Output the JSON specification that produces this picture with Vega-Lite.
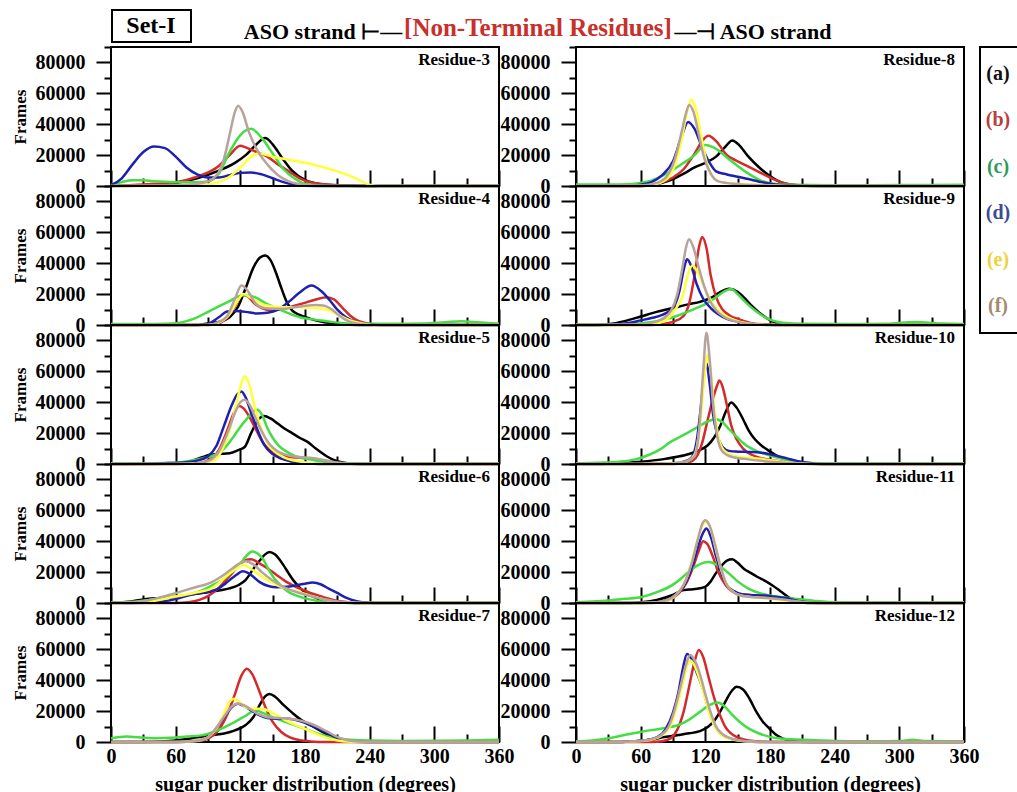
{
"$schema":"https://vega.github.io/schema/vega-lite/v6.json",
"padding":{"left":10,"top":5,"right":-23,"bottom":0},
"background":"white",
"config":{
 "font":"Liberation Serif",
 "view":{"stroke":"black","strokeWidth":2},
 "axis":{"labelFont":"Liberation Serif","labelFontWeight":"bold","labelFontSize":20,"labelColor":"black","titleFont":"Liberation Serif","titleFontWeight":"bold","titleColor":"black","grid":false,"domain":false,"tickColor":"black","tickWidth":2,"labelOverlap":false,"labelFlush":false,"labelBound":false,"tickCount":30},
 "text":{"font":"Liberation Serif","fontWeight":"bold"}
},
"datasets":{"pts":[
{"r":3,"s":"a","x":0,"y":0},{"r":3,"s":"a","x":40,"y":500},{"r":3,"s":"a","x":60,"y":2000},{"r":3,"s":"a","x":80,"y":5000},{"r":3,"s":"a","x":100,"y":10000},{"r":3,"s":"a","x":115,"y":15000},{"r":3,"s":"a","x":125,"y":20000},{"r":3,"s":"a","x":135,"y":27000},{"r":3,"s":"a","x":143,"y":31000},{"r":3,"s":"a","x":150,"y":27000},{"r":3,"s":"a","x":158,"y":19000},{"r":3,"s":"a","x":168,"y":10000},{"r":3,"s":"a","x":180,"y":4000},{"r":3,"s":"a","x":195,"y":1200},{"r":3,"s":"a","x":220,"y":200},{"r":3,"s":"a","x":240,"y":0},{"r":3,"s":"a","x":360,"y":0},
{"r":3,"s":"b","x":0,"y":0},{"r":3,"s":"b","x":30,"y":1000},{"r":3,"s":"b","x":60,"y":2500},{"r":3,"s":"b","x":80,"y":6000},{"r":3,"s":"b","x":100,"y":13000},{"r":3,"s":"b","x":110,"y":20000},{"r":3,"s":"b","x":120,"y":26000},{"r":3,"s":"b","x":125,"y":25000},{"r":3,"s":"b","x":135,"y":22000},{"r":3,"s":"b","x":145,"y":19000},{"r":3,"s":"b","x":155,"y":14000},{"r":3,"s":"b","x":165,"y":9500},{"r":3,"s":"b","x":175,"y":5000},{"r":3,"s":"b","x":185,"y":2500},{"r":3,"s":"b","x":200,"y":1000},{"r":3,"s":"b","x":230,"y":200},{"r":3,"s":"b","x":250,"y":0},{"r":3,"s":"b","x":360,"y":0},
{"r":3,"s":"c","x":0,"y":500},{"r":3,"s":"c","x":10,"y":2500},{"r":3,"s":"c","x":20,"y":3800},{"r":3,"s":"c","x":30,"y":3800},{"r":3,"s":"c","x":40,"y":3000},{"r":3,"s":"c","x":60,"y":2500},{"r":3,"s":"c","x":80,"y":2500},{"r":3,"s":"c","x":90,"y":3000},{"r":3,"s":"c","x":100,"y":8000},{"r":3,"s":"c","x":110,"y":22000},{"r":3,"s":"c","x":120,"y":33000},{"r":3,"s":"c","x":130,"y":37000},{"r":3,"s":"c","x":140,"y":31000},{"r":3,"s":"c","x":150,"y":21000},{"r":3,"s":"c","x":160,"y":11000},{"r":3,"s":"c","x":170,"y":5000},{"r":3,"s":"c","x":180,"y":1500},{"r":3,"s":"c","x":200,"y":200},{"r":3,"s":"c","x":220,"y":0},{"r":3,"s":"c","x":360,"y":0},
{"r":3,"s":"d","x":0,"y":500},{"r":3,"s":"d","x":10,"y":5000},{"r":3,"s":"d","x":20,"y":14000},{"r":3,"s":"d","x":30,"y":22000},{"r":3,"s":"d","x":40,"y":25500},{"r":3,"s":"d","x":50,"y":24500},{"r":3,"s":"d","x":60,"y":19000},{"r":3,"s":"d","x":70,"y":12000},{"r":3,"s":"d","x":80,"y":7500},{"r":3,"s":"d","x":90,"y":5500},{"r":3,"s":"d","x":100,"y":5500},{"r":3,"s":"d","x":110,"y":7000},{"r":3,"s":"d","x":120,"y":8500},{"r":3,"s":"d","x":130,"y":8800},{"r":3,"s":"d","x":140,"y":7500},{"r":3,"s":"d","x":150,"y":5000},{"r":3,"s":"d","x":160,"y":2500},{"r":3,"s":"d","x":170,"y":900},{"r":3,"s":"d","x":180,"y":200},{"r":3,"s":"d","x":200,"y":0},{"r":3,"s":"d","x":360,"y":0},
{"r":3,"s":"e","x":0,"y":0},{"r":3,"s":"e","x":60,"y":0},{"r":3,"s":"e","x":90,"y":1000},{"r":3,"s":"e","x":100,"y":2500},{"r":3,"s":"e","x":110,"y":6000},{"r":3,"s":"e","x":120,"y":12000},{"r":3,"s":"e","x":130,"y":19000},{"r":3,"s":"e","x":137,"y":21000},{"r":3,"s":"e","x":150,"y":19000},{"r":3,"s":"e","x":165,"y":17000},{"r":3,"s":"e","x":180,"y":15000},{"r":3,"s":"e","x":195,"y":12500},{"r":3,"s":"e","x":210,"y":9500},{"r":3,"s":"e","x":220,"y":7000},{"r":3,"s":"e","x":230,"y":4000},{"r":3,"s":"e","x":240,"y":800},{"r":3,"s":"e","x":250,"y":0},{"r":3,"s":"e","x":360,"y":0},
{"r":3,"s":"f","x":0,"y":0},{"r":3,"s":"f","x":60,"y":500},{"r":3,"s":"f","x":80,"y":1500},{"r":3,"s":"f","x":90,"y":3000},{"r":3,"s":"f","x":100,"y":9000},{"r":3,"s":"f","x":105,"y":18000},{"r":3,"s":"f","x":110,"y":33000},{"r":3,"s":"f","x":115,"y":48000},{"r":3,"s":"f","x":118,"y":52000},{"r":3,"s":"f","x":122,"y":48000},{"r":3,"s":"f","x":128,"y":35000},{"r":3,"s":"f","x":135,"y":24000},{"r":3,"s":"f","x":145,"y":14000},{"r":3,"s":"f","x":155,"y":7000},{"r":3,"s":"f","x":165,"y":3000},{"r":3,"s":"f","x":180,"y":800},{"r":3,"s":"f","x":200,"y":0},{"r":3,"s":"f","x":360,"y":0},

{"r":4,"s":"a","x":0,"y":0},{"r":4,"s":"a","x":80,"y":0},{"r":4,"s":"a","x":90,"y":1000},{"r":4,"s":"a","x":100,"y":2000},{"r":4,"s":"a","x":110,"y":5000},{"r":4,"s":"a","x":118,"y":12000},{"r":4,"s":"a","x":125,"y":24000},{"r":4,"s":"a","x":132,"y":37000},{"r":4,"s":"a","x":138,"y":43500},{"r":4,"s":"a","x":143,"y":45000},{"r":4,"s":"a","x":148,"y":42000},{"r":4,"s":"a","x":153,"y":34000},{"r":4,"s":"a","x":158,"y":24000},{"r":4,"s":"a","x":163,"y":15000},{"r":4,"s":"a","x":168,"y":9500},{"r":4,"s":"a","x":175,"y":6500},{"r":4,"s":"a","x":185,"y":4000},{"r":4,"s":"a","x":195,"y":2200},{"r":4,"s":"a","x":210,"y":700},{"r":4,"s":"a","x":230,"y":0},{"r":4,"s":"a","x":360,"y":0},
{"r":4,"s":"b","x":0,"y":0},{"r":4,"s":"b","x":90,"y":0},{"r":4,"s":"b","x":100,"y":1000},{"r":4,"s":"b","x":108,"y":5000},{"r":4,"s":"b","x":115,"y":12000},{"r":4,"s":"b","x":122,"y":19500},{"r":4,"s":"b","x":127,"y":18500},{"r":4,"s":"b","x":133,"y":14000},{"r":4,"s":"b","x":140,"y":11000},{"r":4,"s":"b","x":148,"y":9500},{"r":4,"s":"b","x":158,"y":10000},{"r":4,"s":"b","x":168,"y":12000},{"r":4,"s":"b","x":178,"y":14000},{"r":4,"s":"b","x":190,"y":16500},{"r":4,"s":"b","x":200,"y":18000},{"r":4,"s":"b","x":207,"y":16500},{"r":4,"s":"b","x":215,"y":11000},{"r":4,"s":"b","x":222,"y":6000},{"r":4,"s":"b","x":230,"y":2500},{"r":4,"s":"b","x":240,"y":800},{"r":4,"s":"b","x":255,"y":0},{"r":4,"s":"b","x":360,"y":0},
{"r":4,"s":"c","x":0,"y":600},{"r":4,"s":"c","x":30,"y":600},{"r":4,"s":"c","x":50,"y":800},{"r":4,"s":"c","x":60,"y":1200},{"r":4,"s":"c","x":70,"y":2500},{"r":4,"s":"c","x":80,"y":5000},{"r":4,"s":"c","x":90,"y":8500},{"r":4,"s":"c","x":100,"y":12000},{"r":4,"s":"c","x":110,"y":15500},{"r":4,"s":"c","x":120,"y":19000},{"r":4,"s":"c","x":126,"y":19500},{"r":4,"s":"c","x":135,"y":17500},{"r":4,"s":"c","x":145,"y":13500},{"r":4,"s":"c","x":155,"y":10500},{"r":4,"s":"c","x":165,"y":7500},{"r":4,"s":"c","x":175,"y":5000},{"r":4,"s":"c","x":185,"y":3800},{"r":4,"s":"c","x":200,"y":2500},{"r":4,"s":"c","x":215,"y":1200},{"r":4,"s":"c","x":230,"y":800},{"r":4,"s":"c","x":260,"y":800},{"r":4,"s":"c","x":290,"y":1000},{"r":4,"s":"c","x":310,"y":1800},{"r":4,"s":"c","x":325,"y":2400},{"r":4,"s":"c","x":340,"y":1800},{"r":4,"s":"c","x":360,"y":800},
{"r":4,"s":"d","x":0,"y":0},{"r":4,"s":"d","x":80,"y":0},{"r":4,"s":"d","x":90,"y":800},{"r":4,"s":"d","x":100,"y":5000},{"r":4,"s":"d","x":108,"y":8800},{"r":4,"s":"d","x":115,"y":9000},{"r":4,"s":"d","x":125,"y":8500},{"r":4,"s":"d","x":135,"y":7500},{"r":4,"s":"d","x":145,"y":8000},{"r":4,"s":"d","x":155,"y":10000},{"r":4,"s":"d","x":165,"y":15000},{"r":4,"s":"d","x":175,"y":21000},{"r":4,"s":"d","x":186,"y":25500},{"r":4,"s":"d","x":195,"y":22000},{"r":4,"s":"d","x":203,"y":16000},{"r":4,"s":"d","x":210,"y":10000},{"r":4,"s":"d","x":218,"y":5000},{"r":4,"s":"d","x":228,"y":1800},{"r":4,"s":"d","x":240,"y":300},{"r":4,"s":"d","x":250,"y":0},{"r":4,"s":"d","x":360,"y":0},
{"r":4,"s":"e","x":0,"y":0},{"r":4,"s":"e","x":90,"y":0},{"r":4,"s":"e","x":100,"y":1500},{"r":4,"s":"e","x":110,"y":7000},{"r":4,"s":"e","x":117,"y":15000},{"r":4,"s":"e","x":123,"y":20000},{"r":4,"s":"e","x":130,"y":17500},{"r":4,"s":"e","x":140,"y":13500},{"r":4,"s":"e","x":150,"y":12000},{"r":4,"s":"e","x":160,"y":11500},{"r":4,"s":"e","x":175,"y":11500},{"r":4,"s":"e","x":190,"y":11000},{"r":4,"s":"e","x":200,"y":10000},{"r":4,"s":"e","x":210,"y":7000},{"r":4,"s":"e","x":220,"y":3500},{"r":4,"s":"e","x":230,"y":1500},{"r":4,"s":"e","x":245,"y":0},{"r":4,"s":"e","x":360,"y":0},
{"r":4,"s":"f","x":0,"y":0},{"r":4,"s":"f","x":90,"y":0},{"r":4,"s":"f","x":100,"y":2000},{"r":4,"s":"f","x":108,"y":6000},{"r":4,"s":"f","x":115,"y":17000},{"r":4,"s":"f","x":121,"y":25500},{"r":4,"s":"f","x":127,"y":22000},{"r":4,"s":"f","x":134,"y":14000},{"r":4,"s":"f","x":142,"y":11000},{"r":4,"s":"f","x":150,"y":10500},{"r":4,"s":"f","x":160,"y":10500},{"r":4,"s":"f","x":170,"y":11500},{"r":4,"s":"f","x":180,"y":12500},{"r":4,"s":"f","x":190,"y":13000},{"r":4,"s":"f","x":198,"y":12500},{"r":4,"s":"f","x":205,"y":10000},{"r":4,"s":"f","x":212,"y":6000},{"r":4,"s":"f","x":220,"y":2500},{"r":4,"s":"f","x":230,"y":800},{"r":4,"s":"f","x":240,"y":0},{"r":4,"s":"f","x":360,"y":0},

{"r":5,"s":"a","x":0,"y":0},{"r":5,"s":"a","x":40,"y":0},{"r":5,"s":"a","x":60,"y":500},{"r":5,"s":"a","x":75,"y":2000},{"r":5,"s":"a","x":85,"y":4500},{"r":5,"s":"a","x":92,"y":6000},{"r":5,"s":"a","x":100,"y":6500},{"r":5,"s":"a","x":110,"y":7000},{"r":5,"s":"a","x":118,"y":9000},{"r":5,"s":"a","x":124,"y":11000},{"r":5,"s":"a","x":130,"y":20000},{"r":5,"s":"a","x":136,"y":28000},{"r":5,"s":"a","x":142,"y":31000},{"r":5,"s":"a","x":148,"y":29500},{"r":5,"s":"a","x":155,"y":26000},{"r":5,"s":"a","x":162,"y":22500},{"r":5,"s":"a","x":168,"y":20000},{"r":5,"s":"a","x":175,"y":17000},{"r":5,"s":"a","x":182,"y":14500},{"r":5,"s":"a","x":190,"y":10000},{"r":5,"s":"a","x":198,"y":6000},{"r":5,"s":"a","x":206,"y":2800},{"r":5,"s":"a","x":215,"y":1000},{"r":5,"s":"a","x":230,"y":0},{"r":5,"s":"a","x":360,"y":0},
{"r":5,"s":"b","x":0,"y":0},{"r":5,"s":"b","x":60,"y":0},{"r":5,"s":"b","x":80,"y":500},{"r":5,"s":"b","x":92,"y":3000},{"r":5,"s":"b","x":100,"y":9000},{"r":5,"s":"b","x":108,"y":22000},{"r":5,"s":"b","x":114,"y":33000},{"r":5,"s":"b","x":119,"y":37500},{"r":5,"s":"b","x":123,"y":36000},{"r":5,"s":"b","x":128,"y":31000},{"r":5,"s":"b","x":134,"y":23000},{"r":5,"s":"b","x":140,"y":15000},{"r":5,"s":"b","x":147,"y":9000},{"r":5,"s":"b","x":155,"y":6000},{"r":5,"s":"b","x":165,"y":4500},{"r":5,"s":"b","x":175,"y":4000},{"r":5,"s":"b","x":185,"y":3500},{"r":5,"s":"b","x":195,"y":2500},{"r":5,"s":"b","x":205,"y":1200},{"r":5,"s":"b","x":220,"y":300},{"r":5,"s":"b","x":235,"y":0},{"r":5,"s":"b","x":360,"y":0},
{"r":5,"s":"c","x":0,"y":300},{"r":5,"s":"c","x":30,"y":400},{"r":5,"s":"c","x":50,"y":700},{"r":5,"s":"c","x":62,"y":1000},{"r":5,"s":"c","x":79,"y":2800},{"r":5,"s":"c","x":90,"y":4500},{"r":5,"s":"c","x":97,"y":6000},{"r":5,"s":"c","x":105,"y":10000},{"r":5,"s":"c","x":114,"y":18000},{"r":5,"s":"c","x":121,"y":25000},{"r":5,"s":"c","x":127,"y":30000},{"r":5,"s":"c","x":132,"y":34000},{"r":5,"s":"c","x":136,"y":35200},{"r":5,"s":"c","x":140,"y":32000},{"r":5,"s":"c","x":145,"y":23500},{"r":5,"s":"c","x":150,"y":17000},{"r":5,"s":"c","x":156,"y":11500},{"r":5,"s":"c","x":163,"y":8000},{"r":5,"s":"c","x":171,"y":5000},{"r":5,"s":"c","x":180,"y":3500},{"r":5,"s":"c","x":190,"y":2300},{"r":5,"s":"c","x":205,"y":1000},{"r":5,"s":"c","x":225,"y":400},{"r":5,"s":"c","x":250,"y":200},{"r":5,"s":"c","x":360,"y":200},
{"r":5,"s":"d","x":0,"y":0},{"r":5,"s":"d","x":30,"y":200},{"r":5,"s":"d","x":50,"y":500},{"r":5,"s":"d","x":70,"y":1200},{"r":5,"s":"d","x":80,"y":2200},{"r":5,"s":"d","x":90,"y":5000},{"r":5,"s":"d","x":98,"y":12000},{"r":5,"s":"d","x":105,"y":25000},{"r":5,"s":"d","x":112,"y":38000},{"r":5,"s":"d","x":117,"y":45000},{"r":5,"s":"d","x":121,"y":47000},{"r":5,"s":"d","x":125,"y":43000},{"r":5,"s":"d","x":130,"y":33000},{"r":5,"s":"d","x":136,"y":22000},{"r":5,"s":"d","x":142,"y":12500},{"r":5,"s":"d","x":150,"y":6500},{"r":5,"s":"d","x":158,"y":3500},{"r":5,"s":"d","x":168,"y":1500},{"r":5,"s":"d","x":180,"y":500},{"r":5,"s":"d","x":195,"y":0},{"r":5,"s":"d","x":360,"y":0},
{"r":5,"s":"e","x":0,"y":0},{"r":5,"s":"e","x":60,"y":0},{"r":5,"s":"e","x":80,"y":500},{"r":5,"s":"e","x":95,"y":2000},{"r":5,"s":"e","x":103,"y":9000},{"r":5,"s":"e","x":110,"y":22000},{"r":5,"s":"e","x":116,"y":38000},{"r":5,"s":"e","x":120,"y":50000},{"r":5,"s":"e","x":124,"y":56800},{"r":5,"s":"e","x":128,"y":52000},{"r":5,"s":"e","x":133,"y":38000},{"r":5,"s":"e","x":138,"y":26000},{"r":5,"s":"e","x":144,"y":15000},{"r":5,"s":"e","x":152,"y":8000},{"r":5,"s":"e","x":160,"y":4500},{"r":5,"s":"e","x":170,"y":2200},{"r":5,"s":"e","x":185,"y":700},{"r":5,"s":"e","x":200,"y":0},{"r":5,"s":"e","x":360,"y":0},
{"r":5,"s":"f","x":0,"y":0},{"r":5,"s":"f","x":60,"y":0},{"r":5,"s":"f","x":80,"y":500},{"r":5,"s":"f","x":92,"y":2500},{"r":5,"s":"f","x":100,"y":8000},{"r":5,"s":"f","x":108,"y":20000},{"r":5,"s":"f","x":115,"y":33000},{"r":5,"s":"f","x":120,"y":40000},{"r":5,"s":"f","x":124,"y":41600},{"r":5,"s":"f","x":128,"y":39000},{"r":5,"s":"f","x":134,"y":30000},{"r":5,"s":"f","x":140,"y":21000},{"r":5,"s":"f","x":147,"y":13000},{"r":5,"s":"f","x":155,"y":8000},{"r":5,"s":"f","x":165,"y":5500},{"r":5,"s":"f","x":175,"y":4500},{"r":5,"s":"f","x":185,"y":4000},{"r":5,"s":"f","x":195,"y":3000},{"r":5,"s":"f","x":205,"y":1500},{"r":5,"s":"f","x":215,"y":500},{"r":5,"s":"f","x":230,"y":0},{"r":5,"s":"f","x":360,"y":0},

{"r":6,"s":"a","x":0,"y":0},{"r":6,"s":"a","x":10,"y":500},{"r":6,"s":"a","x":20,"y":1200},{"r":6,"s":"a","x":31,"y":2500},{"r":6,"s":"a","x":45,"y":3200},{"r":6,"s":"a","x":62,"y":4000},{"r":6,"s":"a","x":79,"y":6000},{"r":6,"s":"a","x":90,"y":7000},{"r":6,"s":"a","x":101,"y":8200},{"r":6,"s":"a","x":110,"y":9500},{"r":6,"s":"a","x":118,"y":11500},{"r":6,"s":"a","x":125,"y":15000},{"r":6,"s":"a","x":132,"y":22000},{"r":6,"s":"a","x":138,"y":27500},{"r":6,"s":"a","x":143,"y":31500},{"r":6,"s":"a","x":147,"y":33000},{"r":6,"s":"a","x":152,"y":31500},{"r":6,"s":"a","x":160,"y":24500},{"r":6,"s":"a","x":165,"y":19000},{"r":6,"s":"a","x":170,"y":14000},{"r":6,"s":"a","x":175,"y":10000},{"r":6,"s":"a","x":180,"y":7000},{"r":6,"s":"a","x":188,"y":4000},{"r":6,"s":"a","x":197,"y":1800},{"r":6,"s":"a","x":210,"y":500},{"r":6,"s":"a","x":225,"y":0},{"r":6,"s":"a","x":360,"y":0},
{"r":6,"s":"b","x":0,"y":0},{"r":6,"s":"b","x":60,"y":0},{"r":6,"s":"b","x":72,"y":500},{"r":6,"s":"b","x":82,"y":2000},{"r":6,"s":"b","x":90,"y":4500},{"r":6,"s":"b","x":98,"y":8500},{"r":6,"s":"b","x":105,"y":13500},{"r":6,"s":"b","x":112,"y":19000},{"r":6,"s":"b","x":119,"y":24500},{"r":6,"s":"b","x":124,"y":27500},{"r":6,"s":"b","x":130,"y":28300},{"r":6,"s":"b","x":137,"y":26000},{"r":6,"s":"b","x":145,"y":22500},{"r":6,"s":"b","x":153,"y":18500},{"r":6,"s":"b","x":162,"y":14000},{"r":6,"s":"b","x":170,"y":11000},{"r":6,"s":"b","x":180,"y":8000},{"r":6,"s":"b","x":188,"y":5800},{"r":6,"s":"b","x":197,"y":3800},{"r":6,"s":"b","x":206,"y":2000},{"r":6,"s":"b","x":216,"y":800},{"r":6,"s":"b","x":230,"y":0},{"r":6,"s":"b","x":360,"y":0},
{"r":6,"s":"c","x":0,"y":300},{"r":6,"s":"c","x":20,"y":800},{"r":6,"s":"c","x":35,"y":2000},{"r":6,"s":"c","x":45,"y":3000},{"r":6,"s":"c","x":58,"y":4200},{"r":6,"s":"c","x":70,"y":5000},{"r":6,"s":"c","x":80,"y":7000},{"r":6,"s":"c","x":88,"y":9300},{"r":6,"s":"c","x":97,"y":12500},{"r":6,"s":"c","x":105,"y":15700},{"r":6,"s":"c","x":112,"y":20000},{"r":6,"s":"c","x":119,"y":24500},{"r":6,"s":"c","x":125,"y":30000},{"r":6,"s":"c","x":131,"y":33400},{"r":6,"s":"c","x":136,"y":32000},{"r":6,"s":"c","x":141,"y":28500},{"r":6,"s":"c","x":146,"y":22000},{"r":6,"s":"c","x":152,"y":15500},{"r":6,"s":"c","x":158,"y":11000},{"r":6,"s":"c","x":164,"y":7500},{"r":6,"s":"c","x":172,"y":4800},{"r":6,"s":"c","x":180,"y":3000},{"r":6,"s":"c","x":193,"y":1200},{"r":6,"s":"c","x":210,"y":400},{"r":6,"s":"c","x":240,"y":200},{"r":6,"s":"c","x":360,"y":200},
{"r":6,"s":"d","x":0,"y":0},{"r":6,"s":"d","x":30,"y":200},{"r":6,"s":"d","x":45,"y":800},{"r":6,"s":"d","x":60,"y":2500},{"r":6,"s":"d","x":72,"y":5000},{"r":6,"s":"d","x":82,"y":6500},{"r":6,"s":"d","x":92,"y":7500},{"r":6,"s":"d","x":100,"y":9500},{"r":6,"s":"d","x":106,"y":12500},{"r":6,"s":"d","x":113,"y":16500},{"r":6,"s":"d","x":118,"y":19000},{"r":6,"s":"d","x":122,"y":20500},{"r":6,"s":"d","x":127,"y":19500},{"r":6,"s":"d","x":132,"y":17000},{"r":6,"s":"d","x":138,"y":13500},{"r":6,"s":"d","x":146,"y":11000},{"r":6,"s":"d","x":154,"y":10200},{"r":6,"s":"d","x":163,"y":10500},{"r":6,"s":"d","x":172,"y":11500},{"r":6,"s":"d","x":180,"y":12500},{"r":6,"s":"d","x":187,"y":13200},{"r":6,"s":"d","x":195,"y":12000},{"r":6,"s":"d","x":202,"y":9300},{"r":6,"s":"d","x":210,"y":6500},{"r":6,"s":"d","x":218,"y":3500},{"r":6,"s":"d","x":228,"y":1200},{"r":6,"s":"d","x":240,"y":200},{"r":6,"s":"d","x":250,"y":0},{"r":6,"s":"d","x":360,"y":0},
{"r":6,"s":"e","x":0,"y":0},{"r":6,"s":"e","x":20,"y":300},{"r":6,"s":"e","x":40,"y":1500},{"r":6,"s":"e","x":55,"y":3500},{"r":6,"s":"e","x":70,"y":5500},{"r":6,"s":"e","x":80,"y":7000},{"r":6,"s":"e","x":92,"y":9000},{"r":6,"s":"e","x":100,"y":13000},{"r":6,"s":"e","x":108,"y":18000},{"r":6,"s":"e","x":115,"y":21500},{"r":6,"s":"e","x":123,"y":24800},{"r":6,"s":"e","x":128,"y":23000},{"r":6,"s":"e","x":136,"y":19000},{"r":6,"s":"e","x":145,"y":15000},{"r":6,"s":"e","x":154,"y":11500},{"r":6,"s":"e","x":165,"y":8800},{"r":6,"s":"e","x":175,"y":7000},{"r":6,"s":"e","x":185,"y":4800},{"r":6,"s":"e","x":195,"y":2800},{"r":6,"s":"e","x":205,"y":1200},{"r":6,"s":"e","x":220,"y":300},{"r":6,"s":"e","x":235,"y":0},{"r":6,"s":"e","x":360,"y":0},
{"r":6,"s":"f","x":0,"y":0},{"r":6,"s":"f","x":20,"y":500},{"r":6,"s":"f","x":35,"y":1800},{"r":6,"s":"f","x":45,"y":3500},{"r":6,"s":"f","x":58,"y":6000},{"r":6,"s":"f","x":70,"y":8500},{"r":6,"s":"f","x":80,"y":10500},{"r":6,"s":"f","x":92,"y":13000},{"r":6,"s":"f","x":102,"y":17000},{"r":6,"s":"f","x":112,"y":22000},{"r":6,"s":"f","x":120,"y":26000},{"r":6,"s":"f","x":125,"y":27000},{"r":6,"s":"f","x":132,"y":25000},{"r":6,"s":"f","x":140,"y":20000},{"r":6,"s":"f","x":148,"y":15500},{"r":6,"s":"f","x":157,"y":11500},{"r":6,"s":"f","x":166,"y":8500},{"r":6,"s":"f","x":175,"y":6500},{"r":6,"s":"f","x":185,"y":4500},{"r":6,"s":"f","x":195,"y":2800},{"r":6,"s":"f","x":205,"y":1500},{"r":6,"s":"f","x":220,"y":400},{"r":6,"s":"f","x":235,"y":0},{"r":6,"s":"f","x":360,"y":0},

{"r":7,"s":"a","x":0,"y":0},{"r":7,"s":"a","x":30,"y":0},{"r":7,"s":"a","x":50,"y":500},{"r":7,"s":"a","x":65,"y":1500},{"r":7,"s":"a","x":80,"y":3000},{"r":7,"s":"a","x":95,"y":4500},{"r":7,"s":"a","x":105,"y":5500},{"r":7,"s":"a","x":115,"y":7500},{"r":7,"s":"a","x":125,"y":11000},{"r":7,"s":"a","x":132,"y":16000},{"r":7,"s":"a","x":138,"y":24000},{"r":7,"s":"a","x":143,"y":29500},{"r":7,"s":"a","x":147,"y":31000},{"r":7,"s":"a","x":152,"y":29500},{"r":7,"s":"a","x":160,"y":24000},{"r":7,"s":"a","x":168,"y":19000},{"r":7,"s":"a","x":177,"y":14000},{"r":7,"s":"a","x":186,"y":10500},{"r":7,"s":"a","x":195,"y":7000},{"r":7,"s":"a","x":204,"y":3500},{"r":7,"s":"a","x":212,"y":1200},{"r":7,"s":"a","x":225,"y":200},{"r":7,"s":"a","x":240,"y":0},{"r":7,"s":"a","x":360,"y":0},
{"r":7,"s":"b","x":0,"y":0},{"r":7,"s":"b","x":60,"y":0},{"r":7,"s":"b","x":80,"y":500},{"r":7,"s":"b","x":92,"y":3000},{"r":7,"s":"b","x":100,"y":8000},{"r":7,"s":"b","x":108,"y":18000},{"r":7,"s":"b","x":115,"y":31000},{"r":7,"s":"b","x":121,"y":43000},{"r":7,"s":"b","x":126,"y":47500},{"r":7,"s":"b","x":131,"y":44000},{"r":7,"s":"b","x":137,"y":34000},{"r":7,"s":"b","x":143,"y":23000},{"r":7,"s":"b","x":150,"y":13000},{"r":7,"s":"b","x":158,"y":6500},{"r":7,"s":"b","x":166,"y":3000},{"r":7,"s":"b","x":175,"y":1200},{"r":7,"s":"b","x":185,"y":400},{"r":7,"s":"b","x":200,"y":0},{"r":7,"s":"b","x":360,"y":0},
{"r":7,"s":"c","x":0,"y":2500},{"r":7,"s":"c","x":8,"y":3200},{"r":7,"s":"c","x":15,"y":3500},{"r":7,"s":"c","x":25,"y":3000},{"r":7,"s":"c","x":40,"y":2500},{"r":7,"s":"c","x":55,"y":2700},{"r":7,"s":"c","x":70,"y":3500},{"r":7,"s":"c","x":84,"y":4300},{"r":7,"s":"c","x":95,"y":6500},{"r":7,"s":"c","x":105,"y":9500},{"r":7,"s":"c","x":115,"y":13000},{"r":7,"s":"c","x":125,"y":17000},{"r":7,"s":"c","x":134,"y":20500},{"r":7,"s":"c","x":142,"y":18500},{"r":7,"s":"c","x":152,"y":15500},{"r":7,"s":"c","x":162,"y":13000},{"r":7,"s":"c","x":171,"y":10800},{"r":7,"s":"c","x":182,"y":8000},{"r":7,"s":"c","x":192,"y":5400},{"r":7,"s":"c","x":205,"y":3000},{"r":7,"s":"c","x":222,"y":1500},{"r":7,"s":"c","x":240,"y":900},{"r":7,"s":"c","x":270,"y":700},{"r":7,"s":"c","x":300,"y":800},{"r":7,"s":"c","x":330,"y":1000},{"r":7,"s":"c","x":360,"y":1500},
{"r":7,"s":"d","x":0,"y":0},{"r":7,"s":"d","x":60,"y":0},{"r":7,"s":"d","x":80,"y":800},{"r":7,"s":"d","x":90,"y":3000},{"r":7,"s":"d","x":98,"y":9000},{"r":7,"s":"d","x":105,"y":16000},{"r":7,"s":"d","x":112,"y":22500},{"r":7,"s":"d","x":118,"y":24800},{"r":7,"s":"d","x":124,"y":23000},{"r":7,"s":"d","x":130,"y":20500},{"r":7,"s":"d","x":137,"y":17500},{"r":7,"s":"d","x":145,"y":15500},{"r":7,"s":"d","x":155,"y":15000},{"r":7,"s":"d","x":165,"y":15000},{"r":7,"s":"d","x":175,"y":13500},{"r":7,"s":"d","x":185,"y":11000},{"r":7,"s":"d","x":193,"y":8500},{"r":7,"s":"d","x":200,"y":6000},{"r":7,"s":"d","x":208,"y":3200},{"r":7,"s":"d","x":216,"y":1200},{"r":7,"s":"d","x":225,"y":300},{"r":7,"s":"d","x":240,"y":0},{"r":7,"s":"d","x":360,"y":0},
{"r":7,"s":"e","x":0,"y":0},{"r":7,"s":"e","x":60,"y":0},{"r":7,"s":"e","x":80,"y":800},{"r":7,"s":"e","x":90,"y":3000},{"r":7,"s":"e","x":97,"y":8000},{"r":7,"s":"e","x":104,"y":17000},{"r":7,"s":"e","x":110,"y":26000},{"r":7,"s":"e","x":114,"y":28000},{"r":7,"s":"e","x":119,"y":26000},{"r":7,"s":"e","x":125,"y":22500},{"r":7,"s":"e","x":132,"y":21500},{"r":7,"s":"e","x":140,"y":21500},{"r":7,"s":"e","x":148,"y":19500},{"r":7,"s":"e","x":156,"y":16500},{"r":7,"s":"e","x":165,"y":13000},{"r":7,"s":"e","x":175,"y":10000},{"r":7,"s":"e","x":185,"y":7000},{"r":7,"s":"e","x":195,"y":4000},{"r":7,"s":"e","x":205,"y":1800},{"r":7,"s":"e","x":215,"y":500},{"r":7,"s":"e","x":230,"y":0},{"r":7,"s":"e","x":360,"y":0},
{"r":7,"s":"f","x":0,"y":0},{"r":7,"s":"f","x":60,"y":0},{"r":7,"s":"f","x":80,"y":800},{"r":7,"s":"f","x":90,"y":3000},{"r":7,"s":"f","x":98,"y":9500},{"r":7,"s":"f","x":105,"y":16500},{"r":7,"s":"f","x":112,"y":23000},{"r":7,"s":"f","x":118,"y":25000},{"r":7,"s":"f","x":124,"y":23500},{"r":7,"s":"f","x":130,"y":21000},{"r":7,"s":"f","x":137,"y":18000},{"r":7,"s":"f","x":145,"y":16000},{"r":7,"s":"f","x":155,"y":15500},{"r":7,"s":"f","x":165,"y":15000},{"r":7,"s":"f","x":175,"y":14000},{"r":7,"s":"f","x":185,"y":12000},{"r":7,"s":"f","x":193,"y":9500},{"r":7,"s":"f","x":200,"y":7000},{"r":7,"s":"f","x":208,"y":4000},{"r":7,"s":"f","x":216,"y":1800},{"r":7,"s":"f","x":225,"y":500},{"r":7,"s":"f","x":240,"y":0},{"r":7,"s":"f","x":360,"y":0},

{"r":8,"s":"a","x":0,"y":0},{"r":8,"s":"a","x":60,"y":0},{"r":8,"s":"a","x":70,"y":500},{"r":8,"s":"a","x":80,"y":2000},{"r":8,"s":"a","x":90,"y":4500},{"r":8,"s":"a","x":100,"y":8000},{"r":8,"s":"a","x":110,"y":12000},{"r":8,"s":"a","x":120,"y":15000},{"r":8,"s":"a","x":130,"y":19000},{"r":8,"s":"a","x":138,"y":25000},{"r":8,"s":"a","x":145,"y":29500},{"r":8,"s":"a","x":152,"y":26000},{"r":8,"s":"a","x":160,"y":19000},{"r":8,"s":"a","x":170,"y":12000},{"r":8,"s":"a","x":180,"y":6500},{"r":8,"s":"a","x":190,"y":2500},{"r":8,"s":"a","x":200,"y":800},{"r":8,"s":"a","x":220,"y":0},{"r":8,"s":"a","x":360,"y":0},
{"r":8,"s":"b","x":0,"y":0},{"r":8,"s":"b","x":60,"y":0},{"r":8,"s":"b","x":70,"y":500},{"r":8,"s":"b","x":80,"y":2500},{"r":8,"s":"b","x":90,"y":5500},{"r":8,"s":"b","x":100,"y":11000},{"r":8,"s":"b","x":110,"y":21000},{"r":8,"s":"b","x":118,"y":30000},{"r":8,"s":"b","x":123,"y":32500},{"r":8,"s":"b","x":130,"y":29000},{"r":8,"s":"b","x":140,"y":20000},{"r":8,"s":"b","x":150,"y":16000},{"r":8,"s":"b","x":160,"y":12500},{"r":8,"s":"b","x":170,"y":9000},{"r":8,"s":"b","x":180,"y":5500},{"r":8,"s":"b","x":190,"y":2500},{"r":8,"s":"b","x":200,"y":1000},{"r":8,"s":"b","x":220,"y":200},{"r":8,"s":"b","x":240,"y":0},{"r":8,"s":"b","x":360,"y":0},
{"r":8,"s":"c","x":0,"y":1000},{"r":8,"s":"c","x":30,"y":1000},{"r":8,"s":"c","x":50,"y":1200},{"r":8,"s":"c","x":60,"y":2000},{"r":8,"s":"c","x":70,"y":3500},{"r":8,"s":"c","x":80,"y":6500},{"r":8,"s":"c","x":90,"y":10500},{"r":8,"s":"c","x":100,"y":15000},{"r":8,"s":"c","x":110,"y":20000},{"r":8,"s":"c","x":120,"y":26500},{"r":8,"s":"c","x":130,"y":24000},{"r":8,"s":"c","x":140,"y":18500},{"r":8,"s":"c","x":150,"y":13000},{"r":8,"s":"c","x":160,"y":8000},{"r":8,"s":"c","x":170,"y":4000},{"r":8,"s":"c","x":180,"y":1800},{"r":8,"s":"c","x":195,"y":800},{"r":8,"s":"c","x":240,"y":500},{"r":8,"s":"c","x":300,"y":600},{"r":8,"s":"c","x":360,"y":800},
{"r":8,"s":"d","x":0,"y":0},{"r":8,"s":"d","x":50,"y":200},{"r":8,"s":"d","x":60,"y":800},{"r":8,"s":"d","x":70,"y":2500},{"r":8,"s":"d","x":80,"y":7000},{"r":8,"s":"d","x":90,"y":16000},{"r":8,"s":"d","x":98,"y":32000},{"r":8,"s":"d","x":104,"y":41500},{"r":8,"s":"d","x":110,"y":37000},{"r":8,"s":"d","x":117,"y":25000},{"r":8,"s":"d","x":124,"y":15000},{"r":8,"s":"d","x":130,"y":9500},{"r":8,"s":"d","x":140,"y":7500},{"r":8,"s":"d","x":150,"y":6000},{"r":8,"s":"d","x":160,"y":4500},{"r":8,"s":"d","x":170,"y":2800},{"r":8,"s":"d","x":185,"y":1000},{"r":8,"s":"d","x":200,"y":300},{"r":8,"s":"d","x":220,"y":0},{"r":8,"s":"d","x":360,"y":0},
{"r":8,"s":"e","x":0,"y":0},{"r":8,"s":"e","x":60,"y":200},{"r":8,"s":"e","x":75,"y":1500},{"r":8,"s":"e","x":85,"y":5000},{"r":8,"s":"e","x":92,"y":14000},{"r":8,"s":"e","x":98,"y":30000},{"r":8,"s":"e","x":103,"y":48000},{"r":8,"s":"e","x":107,"y":56000},{"r":8,"s":"e","x":111,"y":50000},{"r":8,"s":"e","x":116,"y":33000},{"r":8,"s":"e","x":121,"y":16000},{"r":8,"s":"e","x":127,"y":6000},{"r":8,"s":"e","x":135,"y":2500},{"r":8,"s":"e","x":150,"y":1500},{"r":8,"s":"e","x":170,"y":800},{"r":8,"s":"e","x":200,"y":0},{"r":8,"s":"e","x":360,"y":0},
{"r":8,"s":"f","x":0,"y":0},{"r":8,"s":"f","x":60,"y":300},{"r":8,"s":"f","x":75,"y":2000},{"r":8,"s":"f","x":85,"y":7000},{"r":8,"s":"f","x":92,"y":18000},{"r":8,"s":"f","x":98,"y":35000},{"r":8,"s":"f","x":102,"y":47000},{"r":8,"s":"f","x":105,"y":52500},{"r":8,"s":"f","x":109,"y":48000},{"r":8,"s":"f","x":114,"y":33000},{"r":8,"s":"f","x":119,"y":18000},{"r":8,"s":"f","x":125,"y":8000},{"r":8,"s":"f","x":132,"y":3000},{"r":8,"s":"f","x":150,"y":1200},{"r":8,"s":"f","x":170,"y":500},{"r":8,"s":"f","x":200,"y":0},{"r":8,"s":"f","x":360,"y":0},

{"r":9,"s":"a","x":0,"y":0},{"r":9,"s":"a","x":20,"y":0},{"r":9,"s":"a","x":30,"y":500},{"r":9,"s":"a","x":45,"y":2500},{"r":9,"s":"a","x":60,"y":5500},{"r":9,"s":"a","x":75,"y":8500},{"r":9,"s":"a","x":90,"y":11000},{"r":9,"s":"a","x":105,"y":13500},{"r":9,"s":"a","x":115,"y":15000},{"r":9,"s":"a","x":125,"y":17500},{"r":9,"s":"a","x":133,"y":21000},{"r":9,"s":"a","x":142,"y":23500},{"r":9,"s":"a","x":150,"y":21500},{"r":9,"s":"a","x":157,"y":17000},{"r":9,"s":"a","x":163,"y":12500},{"r":9,"s":"a","x":170,"y":8000},{"r":9,"s":"a","x":178,"y":4000},{"r":9,"s":"a","x":185,"y":1500},{"r":9,"s":"a","x":195,"y":300},{"r":9,"s":"a","x":210,"y":0},{"r":9,"s":"a","x":360,"y":0},
{"r":9,"s":"b","x":0,"y":0},{"r":9,"s":"b","x":70,"y":0},{"r":9,"s":"b","x":80,"y":500},{"r":9,"s":"b","x":90,"y":2000},{"r":9,"s":"b","x":100,"y":6000},{"r":9,"s":"b","x":105,"y":14000},{"r":9,"s":"b","x":110,"y":32000},{"r":9,"s":"b","x":114,"y":50000},{"r":9,"s":"b","x":117,"y":57000},{"r":9,"s":"b","x":121,"y":50000},{"r":9,"s":"b","x":125,"y":32000},{"r":9,"s":"b","x":130,"y":18000},{"r":9,"s":"b","x":136,"y":10000},{"r":9,"s":"b","x":143,"y":6000},{"r":9,"s":"b","x":152,"y":3500},{"r":9,"s":"b","x":163,"y":1200},{"r":9,"s":"b","x":180,"y":200},{"r":9,"s":"b","x":190,"y":0},{"r":9,"s":"b","x":360,"y":0},
{"r":9,"s":"c","x":0,"y":300},{"r":9,"s":"c","x":30,"y":300},{"r":9,"s":"c","x":45,"y":600},{"r":9,"s":"c","x":60,"y":1200},{"r":9,"s":"c","x":75,"y":2500},{"r":9,"s":"c","x":90,"y":5000},{"r":9,"s":"c","x":100,"y":7500},{"r":9,"s":"c","x":110,"y":10500},{"r":9,"s":"c","x":120,"y":13500},{"r":9,"s":"c","x":130,"y":18000},{"r":9,"s":"c","x":138,"y":22000},{"r":9,"s":"c","x":144,"y":23300},{"r":9,"s":"c","x":150,"y":20000},{"r":9,"s":"c","x":157,"y":15000},{"r":9,"s":"c","x":165,"y":10000},{"r":9,"s":"c","x":173,"y":6000},{"r":9,"s":"c","x":182,"y":3000},{"r":9,"s":"c","x":192,"y":1500},{"r":9,"s":"c","x":210,"y":800},{"r":9,"s":"c","x":250,"y":700},{"r":9,"s":"c","x":290,"y":800},{"r":9,"s":"c","x":305,"y":1600},{"r":9,"s":"c","x":315,"y":2000},{"r":9,"s":"c","x":325,"y":1600},{"r":9,"s":"c","x":340,"y":900},{"r":9,"s":"c","x":360,"y":700},
{"r":9,"s":"d","x":0,"y":0},{"r":9,"s":"d","x":30,"y":200},{"r":9,"s":"d","x":50,"y":1500},{"r":9,"s":"d","x":60,"y":3000},{"r":9,"s":"d","x":70,"y":4500},{"r":9,"s":"d","x":80,"y":6500},{"r":9,"s":"d","x":90,"y":11000},{"r":9,"s":"d","x":96,"y":22000},{"r":9,"s":"d","x":100,"y":36000},{"r":9,"s":"d","x":103,"y":42500},{"r":9,"s":"d","x":107,"y":38000},{"r":9,"s":"d","x":112,"y":26500},{"r":9,"s":"d","x":118,"y":17000},{"r":9,"s":"d","x":125,"y":11000},{"r":9,"s":"d","x":132,"y":7000},{"r":9,"s":"d","x":140,"y":4000},{"r":9,"s":"d","x":150,"y":2200},{"r":9,"s":"d","x":160,"y":1000},{"r":9,"s":"d","x":175,"y":200},{"r":9,"s":"d","x":190,"y":0},{"r":9,"s":"d","x":360,"y":0},
{"r":9,"s":"e","x":0,"y":0},{"r":9,"s":"e","x":60,"y":0},{"r":9,"s":"e","x":75,"y":1000},{"r":9,"s":"e","x":85,"y":4000},{"r":9,"s":"e","x":93,"y":11000},{"r":9,"s":"e","x":99,"y":19000},{"r":9,"s":"e","x":104,"y":33000},{"r":9,"s":"e","x":108,"y":38500},{"r":9,"s":"e","x":113,"y":34000},{"r":9,"s":"e","x":120,"y":23000},{"r":9,"s":"e","x":126,"y":15000},{"r":9,"s":"e","x":132,"y":9500},{"r":9,"s":"e","x":140,"y":5500},{"r":9,"s":"e","x":150,"y":2500},{"r":9,"s":"e","x":165,"y":700},{"r":9,"s":"e","x":180,"y":0},{"r":9,"s":"e","x":360,"y":0},
{"r":9,"s":"f","x":0,"y":0},{"r":9,"s":"f","x":60,"y":300},{"r":9,"s":"f","x":70,"y":1200},{"r":9,"s":"f","x":80,"y":4000},{"r":9,"s":"f","x":88,"y":9000},{"r":9,"s":"f","x":94,"y":20000},{"r":9,"s":"f","x":99,"y":38000},{"r":9,"s":"f","x":102,"y":50000},{"r":9,"s":"f","x":105,"y":55500},{"r":9,"s":"f","x":109,"y":50000},{"r":9,"s":"f","x":114,"y":37000},{"r":9,"s":"f","x":119,"y":25000},{"r":9,"s":"f","x":124,"y":16000},{"r":9,"s":"f","x":130,"y":9500},{"r":9,"s":"f","x":138,"y":5000},{"r":9,"s":"f","x":150,"y":2000},{"r":9,"s":"f","x":165,"y":500},{"r":9,"s":"f","x":180,"y":0},{"r":9,"s":"f","x":360,"y":0},

{"r":10,"s":"a","x":0,"y":0},{"r":10,"s":"a","x":20,"y":0},{"r":10,"s":"a","x":40,"y":500},{"r":10,"s":"a","x":60,"y":1500},{"r":10,"s":"a","x":80,"y":3000},{"r":10,"s":"a","x":95,"y":4800},{"r":10,"s":"a","x":105,"y":6500},{"r":10,"s":"a","x":115,"y":9000},{"r":10,"s":"a","x":122,"y":12000},{"r":10,"s":"a","x":128,"y":17000},{"r":10,"s":"a","x":134,"y":25000},{"r":10,"s":"a","x":139,"y":34000},{"r":10,"s":"a","x":144,"y":39900},{"r":10,"s":"a","x":149,"y":36500},{"r":10,"s":"a","x":155,"y":29000},{"r":10,"s":"a","x":160,"y":22000},{"r":10,"s":"a","x":166,"y":16000},{"r":10,"s":"a","x":172,"y":12000},{"r":10,"s":"a","x":178,"y":9000},{"r":10,"s":"a","x":186,"y":5500},{"r":10,"s":"a","x":195,"y":2800},{"r":10,"s":"a","x":205,"y":1200},{"r":10,"s":"a","x":220,"y":200},{"r":10,"s":"a","x":235,"y":0},{"r":10,"s":"a","x":360,"y":0},
{"r":10,"s":"b","x":0,"y":0},{"r":10,"s":"b","x":90,"y":0},{"r":10,"s":"b","x":100,"y":500},{"r":10,"s":"b","x":108,"y":2000},{"r":10,"s":"b","x":113,"y":6000},{"r":10,"s":"b","x":117,"y":13500},{"r":10,"s":"b","x":122,"y":28000},{"r":10,"s":"b","x":127,"y":42000},{"r":10,"s":"b","x":131,"y":51000},{"r":10,"s":"b","x":133,"y":54000},{"r":10,"s":"b","x":136,"y":50000},{"r":10,"s":"b","x":140,"y":38000},{"r":10,"s":"b","x":144,"y":25000},{"r":10,"s":"b","x":149,"y":16000},{"r":10,"s":"b","x":155,"y":10000},{"r":10,"s":"b","x":163,"y":6000},{"r":10,"s":"b","x":172,"y":3800},{"r":10,"s":"b","x":182,"y":2500},{"r":10,"s":"b","x":195,"y":1200},{"r":10,"s":"b","x":210,"y":300},{"r":10,"s":"b","x":225,"y":0},{"r":10,"s":"b","x":360,"y":0},
{"r":10,"s":"c","x":0,"y":300},{"r":10,"s":"c","x":20,"y":800},{"r":10,"s":"c","x":40,"y":1500},{"r":10,"s":"c","x":55,"y":3000},{"r":10,"s":"c","x":68,"y":6000},{"r":10,"s":"c","x":78,"y":9500},{"r":10,"s":"c","x":86,"y":13500},{"r":10,"s":"c","x":95,"y":17000},{"r":10,"s":"c","x":103,"y":20000},{"r":10,"s":"c","x":112,"y":23500},{"r":10,"s":"c","x":122,"y":27500},{"r":10,"s":"c","x":130,"y":29000},{"r":10,"s":"c","x":136,"y":27000},{"r":10,"s":"c","x":142,"y":22500},{"r":10,"s":"c","x":150,"y":17000},{"r":10,"s":"c","x":158,"y":12000},{"r":10,"s":"c","x":166,"y":9000},{"r":10,"s":"c","x":173,"y":7000},{"r":10,"s":"c","x":185,"y":4500},{"r":10,"s":"c","x":195,"y":2800},{"r":10,"s":"c","x":210,"y":1200},{"r":10,"s":"c","x":225,"y":500},{"r":10,"s":"c","x":260,"y":300},{"r":10,"s":"c","x":360,"y":300},
{"r":10,"s":"d","x":0,"y":0},{"r":10,"s":"d","x":60,"y":0},{"r":10,"s":"d","x":90,"y":500},{"r":10,"s":"d","x":100,"y":1500},{"r":10,"s":"d","x":107,"y":4000},{"r":10,"s":"d","x":112,"y":15000},{"r":10,"s":"d","x":116,"y":38000},{"r":10,"s":"d","x":119,"y":58000},{"r":10,"s":"d","x":121,"y":65000},{"r":10,"s":"d","x":124,"y":52000},{"r":10,"s":"d","x":127,"y":33000},{"r":10,"s":"d","x":131,"y":19000},{"r":10,"s":"d","x":136,"y":11000},{"r":10,"s":"d","x":142,"y":8500},{"r":10,"s":"d","x":150,"y":8000},{"r":10,"s":"d","x":160,"y":7800},{"r":10,"s":"d","x":172,"y":7300},{"r":10,"s":"d","x":185,"y":5500},{"r":10,"s":"d","x":195,"y":3800},{"r":10,"s":"d","x":205,"y":2000},{"r":10,"s":"d","x":215,"y":800},{"r":10,"s":"d","x":230,"y":0},{"r":10,"s":"d","x":360,"y":0},
{"r":10,"s":"e","x":0,"y":0},{"r":10,"s":"e","x":60,"y":0},{"r":10,"s":"e","x":90,"y":500},{"r":10,"s":"e","x":102,"y":1500},{"r":10,"s":"e","x":110,"y":6000},{"r":10,"s":"e","x":115,"y":25000},{"r":10,"s":"e","x":119,"y":55000},{"r":10,"s":"e","x":122,"y":70500},{"r":10,"s":"e","x":125,"y":60000},{"r":10,"s":"e","x":128,"y":38000},{"r":10,"s":"e","x":132,"y":18000},{"r":10,"s":"e","x":137,"y":9000},{"r":10,"s":"e","x":145,"y":5500},{"r":10,"s":"e","x":160,"y":4000},{"r":10,"s":"e","x":175,"y":3000},{"r":10,"s":"e","x":190,"y":1500},{"r":10,"s":"e","x":205,"y":500},{"r":10,"s":"e","x":220,"y":0},{"r":10,"s":"e","x":360,"y":0},
{"r":10,"s":"f","x":0,"y":0},{"r":10,"s":"f","x":60,"y":0},{"r":10,"s":"f","x":90,"y":300},{"r":10,"s":"f","x":102,"y":1500},{"r":10,"s":"f","x":110,"y":5000},{"r":10,"s":"f","x":114,"y":20000},{"r":10,"s":"f","x":118,"y":60000},{"r":10,"s":"f","x":121,"y":85000},{"r":10,"s":"f","x":124,"y":68000},{"r":10,"s":"f","x":127,"y":40000},{"r":10,"s":"f","x":131,"y":18000},{"r":10,"s":"f","x":136,"y":8000},{"r":10,"s":"f","x":145,"y":4500},{"r":10,"s":"f","x":160,"y":3000},{"r":10,"s":"f","x":180,"y":1500},{"r":10,"s":"f","x":200,"y":500},{"r":10,"s":"f","x":220,"y":0},{"r":10,"s":"f","x":360,"y":0},

{"r":11,"s":"a","x":0,"y":0},{"r":11,"s":"a","x":50,"y":0},{"r":11,"s":"a","x":61,"y":500},{"r":11,"s":"a","x":75,"y":2000},{"r":11,"s":"a","x":89,"y":5000},{"r":11,"s":"a","x":98,"y":8000},{"r":11,"s":"a","x":105,"y":8700},{"r":11,"s":"a","x":115,"y":9500},{"r":11,"s":"a","x":120,"y":10500},{"r":11,"s":"a","x":125,"y":14000},{"r":11,"s":"a","x":130,"y":19500},{"r":11,"s":"a","x":135,"y":24000},{"r":11,"s":"a","x":140,"y":27500},{"r":11,"s":"a","x":145,"y":28300},{"r":11,"s":"a","x":150,"y":26000},{"r":11,"s":"a","x":156,"y":22000},{"r":11,"s":"a","x":162,"y":19500},{"r":11,"s":"a","x":168,"y":17000},{"r":11,"s":"a","x":175,"y":14500},{"r":11,"s":"a","x":182,"y":11500},{"r":11,"s":"a","x":190,"y":7500},{"r":11,"s":"a","x":197,"y":3900},{"r":11,"s":"a","x":205,"y":1200},{"r":11,"s":"a","x":215,"y":0},{"r":11,"s":"a","x":360,"y":0},
{"r":11,"s":"b","x":0,"y":0},{"r":11,"s":"b","x":70,"y":0},{"r":11,"s":"b","x":80,"y":500},{"r":11,"s":"b","x":88,"y":2500},{"r":11,"s":"b","x":95,"y":6000},{"r":11,"s":"b","x":102,"y":12500},{"r":11,"s":"b","x":108,"y":22000},{"r":11,"s":"b","x":114,"y":34000},{"r":11,"s":"b","x":118,"y":40000},{"r":11,"s":"b","x":122,"y":38000},{"r":11,"s":"b","x":127,"y":30000},{"r":11,"s":"b","x":132,"y":20000},{"r":11,"s":"b","x":138,"y":12500},{"r":11,"s":"b","x":145,"y":7500},{"r":11,"s":"b","x":155,"y":5500},{"r":11,"s":"b","x":165,"y":5000},{"r":11,"s":"b","x":178,"y":4500},{"r":11,"s":"b","x":190,"y":3200},{"r":11,"s":"b","x":200,"y":1800},{"r":11,"s":"b","x":212,"y":600},{"r":11,"s":"b","x":225,"y":0},{"r":11,"s":"b","x":360,"y":0},
{"r":11,"s":"c","x":0,"y":500},{"r":11,"s":"c","x":15,"y":1000},{"r":11,"s":"c","x":30,"y":1700},{"r":11,"s":"c","x":45,"y":2700},{"r":11,"s":"c","x":61,"y":3900},{"r":11,"s":"c","x":75,"y":7000},{"r":11,"s":"c","x":89,"y":11400},{"r":11,"s":"c","x":97,"y":15500},{"r":11,"s":"c","x":104,"y":20000},{"r":11,"s":"c","x":112,"y":24000},{"r":11,"s":"c","x":118,"y":26000},{"r":11,"s":"c","x":123,"y":26500},{"r":11,"s":"c","x":130,"y":25000},{"r":11,"s":"c","x":136,"y":22500},{"r":11,"s":"c","x":142,"y":19000},{"r":11,"s":"c","x":150,"y":14000},{"r":11,"s":"c","x":160,"y":9300},{"r":11,"s":"c","x":172,"y":6000},{"r":11,"s":"c","x":185,"y":4300},{"r":11,"s":"c","x":203,"y":2800},{"r":11,"s":"c","x":220,"y":1500},{"r":11,"s":"c","x":234,"y":700},{"r":11,"s":"c","x":260,"y":400},{"r":11,"s":"c","x":360,"y":400},
{"r":11,"s":"d","x":0,"y":0},{"r":11,"s":"d","x":60,"y":0},{"r":11,"s":"d","x":75,"y":500},{"r":11,"s":"d","x":85,"y":2000},{"r":11,"s":"d","x":92,"y":5000},{"r":11,"s":"d","x":100,"y":11000},{"r":11,"s":"d","x":107,"y":22000},{"r":11,"s":"d","x":113,"y":36000},{"r":11,"s":"d","x":118,"y":45500},{"r":11,"s":"d","x":121,"y":48200},{"r":11,"s":"d","x":125,"y":43000},{"r":11,"s":"d","x":130,"y":30000},{"r":11,"s":"d","x":135,"y":19000},{"r":11,"s":"d","x":140,"y":11500},{"r":11,"s":"d","x":147,"y":7500},{"r":11,"s":"d","x":155,"y":5500},{"r":11,"s":"d","x":165,"y":5000},{"r":11,"s":"d","x":175,"y":4800},{"r":11,"s":"d","x":185,"y":4000},{"r":11,"s":"d","x":195,"y":3200},{"r":11,"s":"d","x":205,"y":1500},{"r":11,"s":"d","x":215,"y":500},{"r":11,"s":"d","x":230,"y":0},{"r":11,"s":"d","x":360,"y":0},
{"r":11,"s":"e","x":0,"y":0},{"r":11,"s":"e","x":60,"y":0},{"r":11,"s":"e","x":78,"y":500},{"r":11,"s":"e","x":88,"y":2500},{"r":11,"s":"e","x":95,"y":7000},{"r":11,"s":"e","x":102,"y":15000},{"r":11,"s":"e","x":108,"y":28000},{"r":11,"s":"e","x":114,"y":44000},{"r":11,"s":"e","x":118,"y":51000},{"r":11,"s":"e","x":121,"y":52500},{"r":11,"s":"e","x":125,"y":48000},{"r":11,"s":"e","x":130,"y":34000},{"r":11,"s":"e","x":135,"y":21000},{"r":11,"s":"e","x":140,"y":12000},{"r":11,"s":"e","x":147,"y":6500},{"r":11,"s":"e","x":155,"y":4500},{"r":11,"s":"e","x":165,"y":3800},{"r":11,"s":"e","x":178,"y":3000},{"r":11,"s":"e","x":190,"y":2000},{"r":11,"s":"e","x":202,"y":1000},{"r":11,"s":"e","x":215,"y":200},{"r":11,"s":"e","x":230,"y":0},{"r":11,"s":"e","x":360,"y":0},
{"r":11,"s":"f","x":0,"y":0},{"r":11,"s":"f","x":60,"y":0},{"r":11,"s":"f","x":75,"y":500},{"r":11,"s":"f","x":85,"y":2000},{"r":11,"s":"f","x":92,"y":5000},{"r":11,"s":"f","x":100,"y":12000},{"r":11,"s":"f","x":107,"y":25000},{"r":11,"s":"f","x":113,"y":41000},{"r":11,"s":"f","x":117,"y":51000},{"r":11,"s":"f","x":120,"y":53500},{"r":11,"s":"f","x":124,"y":50000},{"r":11,"s":"f","x":129,"y":38000},{"r":11,"s":"f","x":134,"y":24000},{"r":11,"s":"f","x":139,"y":13000},{"r":11,"s":"f","x":146,"y":7000},{"r":11,"s":"f","x":155,"y":4500},{"r":11,"s":"f","x":165,"y":3800},{"r":11,"s":"f","x":178,"y":3200},{"r":11,"s":"f","x":190,"y":2500},{"r":11,"s":"f","x":200,"y":1500},{"r":11,"s":"f","x":212,"y":500},{"r":11,"s":"f","x":225,"y":0},{"r":11,"s":"f","x":360,"y":0},

{"r":12,"s":"a","x":0,"y":0},{"r":12,"s":"a","x":40,"y":0},{"r":12,"s":"a","x":55,"y":500},{"r":12,"s":"a","x":70,"y":1500},{"r":12,"s":"a","x":80,"y":3000},{"r":12,"s":"a","x":95,"y":4500},{"r":12,"s":"a","x":105,"y":5600},{"r":12,"s":"a","x":115,"y":7000},{"r":12,"s":"a","x":122,"y":9500},{"r":12,"s":"a","x":128,"y":13500},{"r":12,"s":"a","x":134,"y":20000},{"r":12,"s":"a","x":140,"y":28000},{"r":12,"s":"a","x":145,"y":33500},{"r":12,"s":"a","x":149,"y":35800},{"r":12,"s":"a","x":155,"y":34000},{"r":12,"s":"a","x":161,"y":28000},{"r":12,"s":"a","x":167,"y":20000},{"r":12,"s":"a","x":173,"y":13500},{"r":12,"s":"a","x":179,"y":9000},{"r":12,"s":"a","x":185,"y":5000},{"r":12,"s":"a","x":192,"y":2200},{"r":12,"s":"a","x":200,"y":700},{"r":12,"s":"a","x":215,"y":0},{"r":12,"s":"a","x":360,"y":0},
{"r":12,"s":"b","x":0,"y":0},{"r":12,"s":"b","x":70,"y":0},{"r":12,"s":"b","x":80,"y":500},{"r":12,"s":"b","x":88,"y":2500},{"r":12,"s":"b","x":94,"y":8000},{"r":12,"s":"b","x":100,"y":20000},{"r":12,"s":"b","x":105,"y":36000},{"r":12,"s":"b","x":110,"y":52000},{"r":12,"s":"b","x":114,"y":59600},{"r":12,"s":"b","x":118,"y":55000},{"r":12,"s":"b","x":123,"y":42000},{"r":12,"s":"b","x":128,"y":29000},{"r":12,"s":"b","x":133,"y":18500},{"r":12,"s":"b","x":138,"y":10500},{"r":12,"s":"b","x":143,"y":6000},{"r":12,"s":"b","x":150,"y":3000},{"r":12,"s":"b","x":160,"y":1000},{"r":12,"s":"b","x":175,"y":200},{"r":12,"s":"b","x":190,"y":0},{"r":12,"s":"b","x":360,"y":0},
{"r":12,"s":"c","x":0,"y":300},{"r":12,"s":"c","x":15,"y":1000},{"r":12,"s":"c","x":30,"y":2400},{"r":12,"s":"c","x":45,"y":4500},{"r":12,"s":"c","x":61,"y":6700},{"r":12,"s":"c","x":80,"y":8800},{"r":12,"s":"c","x":95,"y":11000},{"r":12,"s":"c","x":105,"y":14500},{"r":12,"s":"c","x":115,"y":19500},{"r":12,"s":"c","x":123,"y":23500},{"r":12,"s":"c","x":131,"y":25500},{"r":12,"s":"c","x":138,"y":23000},{"r":12,"s":"c","x":145,"y":17500},{"r":12,"s":"c","x":152,"y":13000},{"r":12,"s":"c","x":160,"y":8800},{"r":12,"s":"c","x":170,"y":5500},{"r":12,"s":"c","x":179,"y":3500},{"r":12,"s":"c","x":190,"y":2300},{"r":12,"s":"c","x":204,"y":1700},{"r":12,"s":"c","x":220,"y":1200},{"r":12,"s":"c","x":235,"y":800},{"r":12,"s":"c","x":260,"y":500},{"r":12,"s":"c","x":300,"y":600},{"r":12,"s":"c","x":312,"y":1500},{"r":12,"s":"c","x":325,"y":600},{"r":12,"s":"c","x":360,"y":400},
{"r":12,"s":"d","x":0,"y":0},{"r":12,"s":"d","x":40,"y":0},{"r":12,"s":"d","x":55,"y":500},{"r":12,"s":"d","x":65,"y":1200},{"r":12,"s":"d","x":75,"y":3000},{"r":12,"s":"d","x":83,"y":8000},{"r":12,"s":"d","x":90,"y":19000},{"r":12,"s":"d","x":95,"y":32000},{"r":12,"s":"d","x":99,"y":47000},{"r":12,"s":"d","x":103,"y":57000},{"r":12,"s":"d","x":107,"y":54000},{"r":12,"s":"d","x":112,"y":45000},{"r":12,"s":"d","x":117,"y":36000},{"r":12,"s":"d","x":122,"y":24000},{"r":12,"s":"d","x":127,"y":13000},{"r":12,"s":"d","x":132,"y":7000},{"r":12,"s":"d","x":137,"y":4000},{"r":12,"s":"d","x":145,"y":1800},{"r":12,"s":"d","x":155,"y":700},{"r":12,"s":"d","x":170,"y":0},{"r":12,"s":"d","x":360,"y":0},
{"r":12,"s":"e","x":0,"y":0},{"r":12,"s":"e","x":45,"y":0},{"r":12,"s":"e","x":58,"y":500},{"r":12,"s":"e","x":70,"y":1500},{"r":12,"s":"e","x":80,"y":4500},{"r":12,"s":"e","x":88,"y":11000},{"r":12,"s":"e","x":94,"y":24000},{"r":12,"s":"e","x":99,"y":38000},{"r":12,"s":"e","x":103,"y":49000},{"r":12,"s":"e","x":106,"y":52700},{"r":12,"s":"e","x":110,"y":49500},{"r":12,"s":"e","x":115,"y":40000},{"r":12,"s":"e","x":120,"y":28000},{"r":12,"s":"e","x":125,"y":16000},{"r":12,"s":"e","x":130,"y":8500},{"r":12,"s":"e","x":136,"y":4000},{"r":12,"s":"e","x":143,"y":2000},{"r":12,"s":"e","x":152,"y":800},{"r":12,"s":"e","x":165,"y":200},{"r":12,"s":"e","x":180,"y":0},{"r":12,"s":"e","x":360,"y":0},
{"r":12,"s":"f","x":0,"y":0},{"r":12,"s":"f","x":40,"y":0},{"r":12,"s":"f","x":55,"y":500},{"r":12,"s":"f","x":68,"y":1500},{"r":12,"s":"f","x":78,"y":4000},{"r":12,"s":"f","x":86,"y":10000},{"r":12,"s":"f","x":92,"y":22000},{"r":12,"s":"f","x":97,"y":36000},{"r":12,"s":"f","x":102,"y":50000},{"r":12,"s":"f","x":106,"y":56300},{"r":12,"s":"f","x":110,"y":53000},{"r":12,"s":"f","x":115,"y":44000},{"r":12,"s":"f","x":120,"y":31000},{"r":12,"s":"f","x":125,"y":19000},{"r":12,"s":"f","x":130,"y":10000},{"r":12,"s":"f","x":136,"y":5000},{"r":12,"s":"f","x":143,"y":2500},{"r":12,"s":"f","x":152,"y":1000},{"r":12,"s":"f","x":165,"y":200},{"r":12,"s":"f","x":180,"y":0},{"r":12,"s":"f","x":360,"y":0}
]},
"spacing":-4,
"hconcat":[
 {"bounds":"flush","spacing":6,"vconcat":[
  {"width":853,"height":36,"view":{"stroke":null},
   "layer":[
    {"data":{"values":[{}]},"mark":{"type":"rect","x":1,"x2":80,"y":5,"y2":37,"fill":"white","stroke":"black","strokeWidth":2},"encoding":{}},
    {"data":{"values":[{"t":"Set-I"}]},"mark":{"type":"text","x":40,"y":21,"align":"center","baseline":"middle","fontSize":24,"color":"black"},"encoding":{"text":{"field":"t"}}},
    {"data":{"values":[{"t":"ASO strand ⊢—"}]},"mark":{"type":"text","x":212,"y":27,"align":"center","baseline":"middle","fontSize":22,"color":"black"},"encoding":{"text":{"field":"t"}}},
    {"data":{"values":[{"t":"[Non-Terminal Residues]"}]},"mark":{"type":"text","x":427,"y":23,"align":"center","baseline":"middle","fontSize":25,"color":"#c8302c"},"encoding":{"text":{"field":"t"}}},
    {"data":{"values":[{"t":"—⊣ ASO strand"}]},"mark":{"type":"text","x":642,"y":27,"align":"center","baseline":"middle","fontSize":22,"color":"black"},"encoding":{"text":{"field":"t"}}}
   ]},
  {"columns":2,"bounds":"flush","spacing":{"row":0,"column":77},"concat":[
   {"width":388,"height":139,"layer":[
    {"data":{"name":"pts"},"transform":[{"filter":"datum.r == 3"}],"mark":{"type":"line","interpolate":"monotone","strokeWidth":2.5},
     "encoding":{"x":{"field":"x","type":"quantitative","scale":{"domain":[0,360],"nice":false},"axis":{"values":[0,30,60,90,120,150,180,210,240,270,300,330,360],"tickCount":30,"labels":false,"title":null,"tickSize":{"condition":{"test":"datum.value % 60 !== 0","value":-8},"value":-16}}},
      "y":{"field":"y","type":"quantitative","scale":{"domain":[0,90000],"nice":false},"axis":{"values":[0,10000,20000,30000,40000,50000,60000,70000,80000,90000],"tickCount":30,"format":"d","labelOverlap":false,"labelExpr":"datum.value % 20000 === 0 ? datum.label : ''","tickSize":{"condition":{"test":"datum.value % 20000 !== 0","value":7},"value":15},"labelPadding":11,"title":"Frames","titleFontSize":17,"titlePadding":6}},
      "color":{"field":"s","type":"nominal","scale":{"domain":["a","b","c","d","e","f"],"range":["#000000","#d42a2a","#44dd44","#2020b0","#ffff3a","#b8a29c"]},"legend":null}}},
    {"data":{"values":[{"t":"Residue-3"}]},"mark":{"type":"text","align":"right","baseline":"top","dx":-9,"dy":5,"fontSize":17,"color":"black"},"encoding":{"x":{"datum":360},"y":{"datum":90000},"text":{"field":"t"}}}
   ]},
   {"width":388,"height":139,"layer":[
    {"data":{"name":"pts"},"transform":[{"filter":"datum.r == 8"}],"mark":{"type":"line","interpolate":"monotone","strokeWidth":2.5},
     "encoding":{"x":{"field":"x","type":"quantitative","scale":{"domain":[0,360],"nice":false},"axis":{"values":[0,30,60,90,120,150,180,210,240,270,300,330,360],"tickCount":30,"labels":false,"title":null,"tickSize":{"condition":{"test":"datum.value % 60 !== 0","value":-8},"value":-16}}},
      "y":{"field":"y","type":"quantitative","scale":{"domain":[0,90000],"nice":false},"axis":{"values":[0,10000,20000,30000,40000,50000,60000,70000,80000,90000],"tickCount":30,"format":"d","labelOverlap":false,"labelExpr":"datum.value % 20000 === 0 ? datum.label : ''","tickSize":{"condition":{"test":"datum.value % 20000 !== 0","value":7},"value":15},"labelPadding":11,"title":null}},
      "color":{"field":"s","type":"nominal","scale":{"domain":["a","b","c","d","e","f"],"range":["#000000","#d42a2a","#44dd44","#2020b0","#ffff3a","#b8a29c"]},"legend":null}}},
    {"data":{"values":[{"t":"Residue-8"}]},"mark":{"type":"text","align":"right","baseline":"top","dx":-9,"dy":5,"fontSize":17,"color":"black"},"encoding":{"x":{"datum":360},"y":{"datum":90000},"text":{"field":"t"}}}
   ]},
   {"width":388,"height":139,"layer":[
    {"data":{"name":"pts"},"transform":[{"filter":"datum.r == 4"}],"mark":{"type":"line","interpolate":"monotone","strokeWidth":2.5},
     "encoding":{"x":{"field":"x","type":"quantitative","scale":{"domain":[0,360],"nice":false},"axis":{"values":[0,30,60,90,120,150,180,210,240,270,300,330,360],"tickCount":30,"labels":false,"title":null,"tickSize":{"condition":{"test":"datum.value % 60 !== 0","value":-8},"value":-16}}},
      "y":{"field":"y","type":"quantitative","scale":{"domain":[0,90000],"nice":false},"axis":{"values":[0,10000,20000,30000,40000,50000,60000,70000,80000,90000],"tickCount":30,"format":"d","labelOverlap":false,"labelExpr":"datum.value % 20000 === 0 ? datum.label : ''","tickSize":{"condition":{"test":"datum.value % 20000 !== 0","value":7},"value":15},"labelPadding":11,"title":"Frames","titleFontSize":17,"titlePadding":6}},
      "color":{"field":"s","type":"nominal","scale":{"domain":["a","b","c","d","e","f"],"range":["#000000","#d42a2a","#44dd44","#2020b0","#ffff3a","#b8a29c"]},"legend":null}}},
    {"data":{"values":[{"t":"Residue-4"}]},"mark":{"type":"text","align":"right","baseline":"top","dx":-9,"dy":5,"fontSize":17,"color":"black"},"encoding":{"x":{"datum":360},"y":{"datum":90000},"text":{"field":"t"}}}
   ]},
   {"width":388,"height":139,"layer":[
    {"data":{"name":"pts"},"transform":[{"filter":"datum.r == 9"}],"mark":{"type":"line","interpolate":"monotone","strokeWidth":2.5},
     "encoding":{"x":{"field":"x","type":"quantitative","scale":{"domain":[0,360],"nice":false},"axis":{"values":[0,30,60,90,120,150,180,210,240,270,300,330,360],"tickCount":30,"labels":false,"title":null,"tickSize":{"condition":{"test":"datum.value % 60 !== 0","value":-8},"value":-16}}},
      "y":{"field":"y","type":"quantitative","scale":{"domain":[0,90000],"nice":false},"axis":{"values":[0,10000,20000,30000,40000,50000,60000,70000,80000,90000],"tickCount":30,"format":"d","labelOverlap":false,"labelExpr":"datum.value % 20000 === 0 ? datum.label : ''","tickSize":{"condition":{"test":"datum.value % 20000 !== 0","value":7},"value":15},"labelPadding":11,"title":null}},
      "color":{"field":"s","type":"nominal","scale":{"domain":["a","b","c","d","e","f"],"range":["#000000","#d42a2a","#44dd44","#2020b0","#ffff3a","#b8a29c"]},"legend":null}}},
    {"data":{"values":[{"t":"Residue-9"}]},"mark":{"type":"text","align":"right","baseline":"top","dx":-9,"dy":5,"fontSize":17,"color":"black"},"encoding":{"x":{"datum":360},"y":{"datum":90000},"text":{"field":"t"}}}
   ]},
   {"width":388,"height":139,"layer":[
    {"data":{"name":"pts"},"transform":[{"filter":"datum.r == 5"}],"mark":{"type":"line","interpolate":"monotone","strokeWidth":2.5},
     "encoding":{"x":{"field":"x","type":"quantitative","scale":{"domain":[0,360],"nice":false},"axis":{"values":[0,30,60,90,120,150,180,210,240,270,300,330,360],"tickCount":30,"labels":false,"title":null,"tickSize":{"condition":{"test":"datum.value % 60 !== 0","value":-8},"value":-16}}},
      "y":{"field":"y","type":"quantitative","scale":{"domain":[0,90000],"nice":false},"axis":{"values":[0,10000,20000,30000,40000,50000,60000,70000,80000,90000],"tickCount":30,"format":"d","labelOverlap":false,"labelExpr":"datum.value % 20000 === 0 ? datum.label : ''","tickSize":{"condition":{"test":"datum.value % 20000 !== 0","value":7},"value":15},"labelPadding":11,"title":"Frames","titleFontSize":17,"titlePadding":6}},
      "color":{"field":"s","type":"nominal","scale":{"domain":["a","b","c","d","e","f"],"range":["#000000","#d42a2a","#44dd44","#2020b0","#ffff3a","#b8a29c"]},"legend":null}}},
    {"data":{"values":[{"t":"Residue-5"}]},"mark":{"type":"text","align":"right","baseline":"top","dx":-9,"dy":5,"fontSize":17,"color":"black"},"encoding":{"x":{"datum":360},"y":{"datum":90000},"text":{"field":"t"}}}
   ]},
   {"width":388,"height":139,"layer":[
    {"data":{"name":"pts"},"transform":[{"filter":"datum.r == 10"}],"mark":{"type":"line","interpolate":"monotone","strokeWidth":2.5},
     "encoding":{"x":{"field":"x","type":"quantitative","scale":{"domain":[0,360],"nice":false},"axis":{"values":[0,30,60,90,120,150,180,210,240,270,300,330,360],"tickCount":30,"labels":false,"title":null,"tickSize":{"condition":{"test":"datum.value % 60 !== 0","value":-8},"value":-16}}},
      "y":{"field":"y","type":"quantitative","scale":{"domain":[0,90000],"nice":false},"axis":{"values":[0,10000,20000,30000,40000,50000,60000,70000,80000,90000],"tickCount":30,"format":"d","labelOverlap":false,"labelExpr":"datum.value % 20000 === 0 ? datum.label : ''","tickSize":{"condition":{"test":"datum.value % 20000 !== 0","value":7},"value":15},"labelPadding":11,"title":null}},
      "color":{"field":"s","type":"nominal","scale":{"domain":["a","b","c","d","e","f"],"range":["#000000","#d42a2a","#44dd44","#2020b0","#ffff3a","#b8a29c"]},"legend":null}}},
    {"data":{"values":[{"t":"Residue-10"}]},"mark":{"type":"text","align":"right","baseline":"top","dx":-9,"dy":5,"fontSize":17,"color":"black"},"encoding":{"x":{"datum":360},"y":{"datum":90000},"text":{"field":"t"}}}
   ]},
   {"width":388,"height":139,"layer":[
    {"data":{"name":"pts"},"transform":[{"filter":"datum.r == 6"}],"mark":{"type":"line","interpolate":"monotone","strokeWidth":2.5},
     "encoding":{"x":{"field":"x","type":"quantitative","scale":{"domain":[0,360],"nice":false},"axis":{"values":[0,30,60,90,120,150,180,210,240,270,300,330,360],"tickCount":30,"labels":false,"title":null,"tickSize":{"condition":{"test":"datum.value % 60 !== 0","value":-8},"value":-16}}},
      "y":{"field":"y","type":"quantitative","scale":{"domain":[0,90000],"nice":false},"axis":{"values":[0,10000,20000,30000,40000,50000,60000,70000,80000,90000],"tickCount":30,"format":"d","labelOverlap":false,"labelExpr":"datum.value % 20000 === 0 ? datum.label : ''","tickSize":{"condition":{"test":"datum.value % 20000 !== 0","value":7},"value":15},"labelPadding":11,"title":"Frames","titleFontSize":17,"titlePadding":6}},
      "color":{"field":"s","type":"nominal","scale":{"domain":["a","b","c","d","e","f"],"range":["#000000","#d42a2a","#44dd44","#2020b0","#ffff3a","#b8a29c"]},"legend":null}}},
    {"data":{"values":[{"t":"Residue-6"}]},"mark":{"type":"text","align":"right","baseline":"top","dx":-9,"dy":5,"fontSize":17,"color":"black"},"encoding":{"x":{"datum":360},"y":{"datum":90000},"text":{"field":"t"}}}
   ]},
   {"width":388,"height":139,"layer":[
    {"data":{"name":"pts"},"transform":[{"filter":"datum.r == 11"}],"mark":{"type":"line","interpolate":"monotone","strokeWidth":2.5},
     "encoding":{"x":{"field":"x","type":"quantitative","scale":{"domain":[0,360],"nice":false},"axis":{"values":[0,30,60,90,120,150,180,210,240,270,300,330,360],"tickCount":30,"labels":false,"title":null,"tickSize":{"condition":{"test":"datum.value % 60 !== 0","value":-8},"value":-16}}},
      "y":{"field":"y","type":"quantitative","scale":{"domain":[0,90000],"nice":false},"axis":{"values":[0,10000,20000,30000,40000,50000,60000,70000,80000,90000],"tickCount":30,"format":"d","labelOverlap":false,"labelExpr":"datum.value % 20000 === 0 ? datum.label : ''","tickSize":{"condition":{"test":"datum.value % 20000 !== 0","value":7},"value":15},"labelPadding":11,"title":null}},
      "color":{"field":"s","type":"nominal","scale":{"domain":["a","b","c","d","e","f"],"range":["#000000","#d42a2a","#44dd44","#2020b0","#ffff3a","#b8a29c"]},"legend":null}}},
    {"data":{"values":[{"t":"Residue-11"}]},"mark":{"type":"text","align":"right","baseline":"top","dx":-9,"dy":5,"fontSize":17,"color":"black"},"encoding":{"x":{"datum":360},"y":{"datum":90000},"text":{"field":"t"}}}
   ]},
   {"width":388,"height":139,"layer":[
    {"data":{"name":"pts"},"transform":[{"filter":"datum.r == 7"}],"mark":{"type":"line","interpolate":"monotone","strokeWidth":2.5},
     "encoding":{"x":{"field":"x","type":"quantitative","scale":{"domain":[0,360],"nice":false},"axis":{"values":[0,30,60,90,120,150,180,210,240,270,300,330,360],"tickCount":30,"labelOverlap":false,"labelExpr":"datum.value % 60 === 0 ? datum.label : ''","labelPadding":20,"title":"sugar pucker distribution (degrees)","titleFontSize":20,"titlePadding":0,"tickSize":{"condition":{"test":"datum.value % 60 !== 0","value":-8},"value":-16}}},
      "y":{"field":"y","type":"quantitative","scale":{"domain":[0,90000],"nice":false},"axis":{"values":[0,10000,20000,30000,40000,50000,60000,70000,80000,90000],"tickCount":30,"format":"d","labelOverlap":false,"labelExpr":"datum.value % 20000 === 0 ? datum.label : ''","tickSize":{"condition":{"test":"datum.value % 20000 !== 0","value":7},"value":15},"labelPadding":11,"title":"Frames","titleFontSize":17,"titlePadding":6}},
      "color":{"field":"s","type":"nominal","scale":{"domain":["a","b","c","d","e","f"],"range":["#000000","#d42a2a","#44dd44","#2020b0","#ffff3a","#b8a29c"]},"legend":null}}},
    {"data":{"values":[{"t":"Residue-7"}]},"mark":{"type":"text","align":"right","baseline":"top","dx":-9,"dy":5,"fontSize":17,"color":"black"},"encoding":{"x":{"datum":360},"y":{"datum":90000},"text":{"field":"t"}}}
   ]},
   {"width":388,"height":139,"layer":[
    {"data":{"name":"pts"},"transform":[{"filter":"datum.r == 12"}],"mark":{"type":"line","interpolate":"monotone","strokeWidth":2.5},
     "encoding":{"x":{"field":"x","type":"quantitative","scale":{"domain":[0,360],"nice":false},"axis":{"values":[0,30,60,90,120,150,180,210,240,270,300,330,360],"tickCount":30,"labelOverlap":false,"labelExpr":"datum.value % 60 === 0 ? datum.label : ''","labelPadding":20,"title":"sugar pucker distribution (degrees)","titleFontSize":20,"titlePadding":0,"tickSize":{"condition":{"test":"datum.value % 60 !== 0","value":-8},"value":-16}}},
      "y":{"field":"y","type":"quantitative","scale":{"domain":[0,90000],"nice":false},"axis":{"values":[0,10000,20000,30000,40000,50000,60000,70000,80000,90000],"tickCount":30,"format":"d","labelOverlap":false,"labelExpr":"datum.value % 20000 === 0 ? datum.label : ''","tickSize":{"condition":{"test":"datum.value % 20000 !== 0","value":7},"value":15},"labelPadding":11,"title":null}},
      "color":{"field":"s","type":"nominal","scale":{"domain":["a","b","c","d","e","f"],"range":["#000000","#d42a2a","#44dd44","#2020b0","#ffff3a","#b8a29c"]},"legend":null}}},
    {"data":{"values":[{"t":"Residue-12"}]},"mark":{"type":"text","align":"right","baseline":"top","dx":-9,"dy":5,"fontSize":17,"color":"black"},"encoding":{"x":{"datum":360},"y":{"datum":90000},"text":{"field":"t"}}}
   ]}
  ]}
 ]},
 {"bounds":"flush","spacing":6,"vconcat":[
  {"width":60,"height":36,"view":{"stroke":null},"data":{"values":[]},"mark":"text","encoding":{}},
  {"width":60,"height":286,
   "data":{"values":[{"t":"(a)"},{"t":"(b)"},{"t":"(c)"},{"t":"(d)"},{"t":"(e)"},{"t":"(f)"}]},
   "mark":{"type":"text","x":18,"align":"center","baseline":"middle","fontSize":20,"fontWeight":"bold","font":"Liberation Serif"},
   "encoding":{"y":{"field":"t","type":"nominal","scale":{"type":"point","padding":0.58},"axis":null},
    "text":{"field":"t"},
    "color":{"field":"t","type":"nominal","scale":{"domain":["(a)","(b)","(c)","(d)","(e)","(f)"],"range":["#111111","#b8403c","#2f9a5a","#3c4c94","#eed23c","#a38a6c"]},"legend":null}}}
 ]}
],
"resolve":{"scale":{"color":"independent"}}
}
